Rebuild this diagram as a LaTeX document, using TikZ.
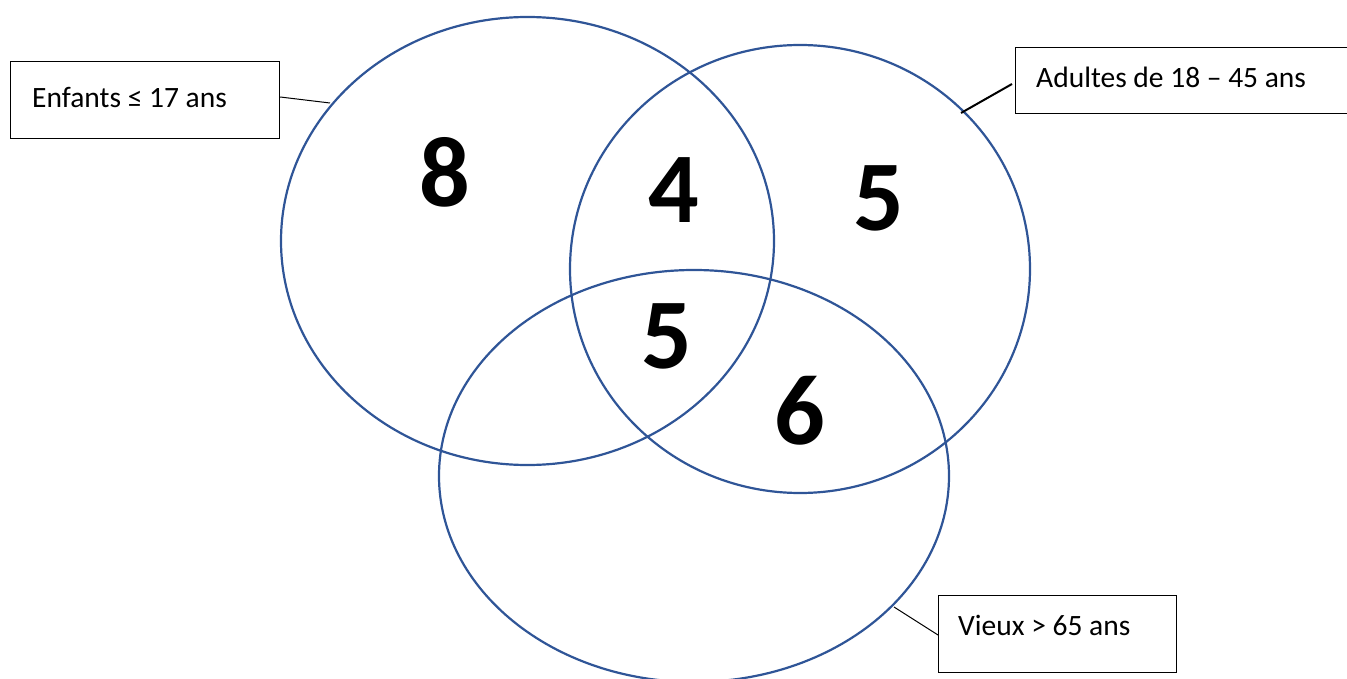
\documentclass[tikz,border=0pt]{standalone}
\usepackage{fontspec}
\setmainfont{Carlito}
\definecolor{vblue}{HTML}{2F5597}
\begin{document}
\begin{tikzpicture}[x=1pt,y=-1pt,
  setline/.style={draw=vblue,line width=2.2pt},
  labelbox/.style={draw=black,line width=1.2pt,inner sep=0pt,anchor=north west},
  labeltext/.style={font=\fontsize{29.5}{34}\selectfont,anchor=west,inner sep=0pt},
  num/.style={font=\fontsize{100}{110}\selectfont\bfseries,inner sep=0pt},
  lead/.style={draw=black,line width=1pt}]
\useasboundingbox (0,0) rectangle (1347,679);
% ellipses
\draw[setline] (527.5,241) ellipse [x radius=246.5, y radius=224];
\draw[setline] (800,269) ellipse [x radius=230, y radius=224];
\draw[setline] (694,476) ellipse [x radius=255, y radius=206];
% label boxes
\node[labelbox,minimum width=269pt,minimum height=77pt] (boxA) at (10,61) {};
\node[labelbox,minimum width=340pt,minimum height=66pt] (boxB) at (1015,47) {};
\node[labelbox,minimum width=238pt,minimum height=77pt] (boxC) at (938,595) {};
\node[labeltext] (tA) at (32,97) {Enfants ≤ 17 ans};
\node[labeltext] (tB) at (1036,77) {Adultes de 18 – 45 ans};
\node[labeltext] (tC) at (958,625) {Vieux > 65 ans};
% leaders
\coordinate (pA) at (330,103);
\coordinate (pB) at (961,113);
\coordinate (pC) at (894,607);
\draw[lead] (boxA.east |- 0,97) -- (pA);
\draw[lead,line width=2pt] (1012,84) -- (pB);
\draw[lead] (boxC.west |- 0,635) -- (pC);
% numbers
\node[num] (n8) at (445,172) {8};
\node[num] (n4) at (674,190) {4};
\node[num] (n5a) at (879,198) {5};
\node[num] (n5b) at (667,336) {5};
\node[num] (n6) at (800,411) {6};
\end{tikzpicture}
\end{document}
